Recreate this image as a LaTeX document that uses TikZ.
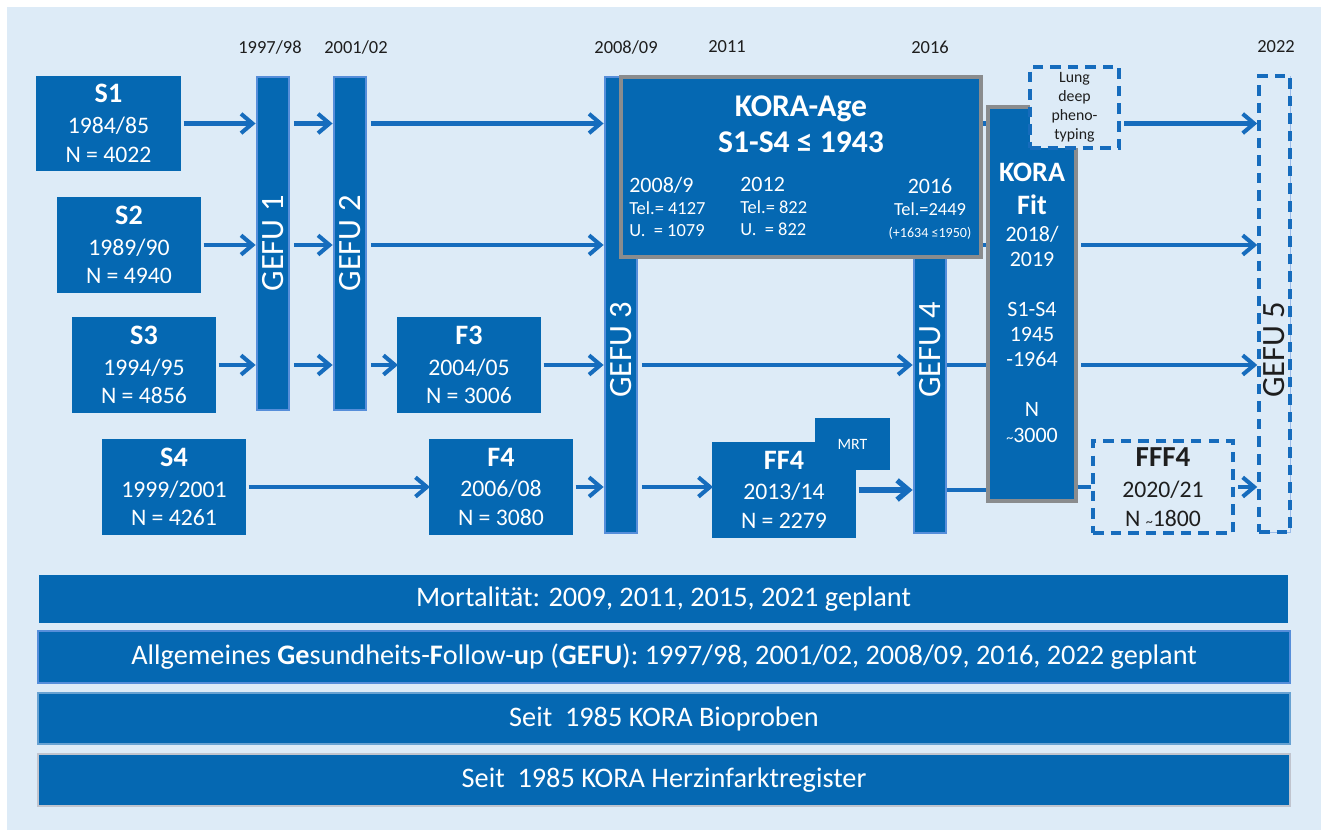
\documentclass[tikz,border=0pt]{standalone}
\usepackage{fontspec}
\setmainfont{Carlito}
\usetikzlibrary{arrows.meta, positioning}
\definecolor{koraBlue}{RGB}{5,104,178}
\definecolor{arrowBlue}{RGB}{22,108,189}
\definecolor{paleBlue}{RGB}{221,235,247}
\definecolor{gefuEdge}{RGB}{86,142,218}
\definecolor{frameGrey}{RGB}{138,140,142}
\definecolor{bioEdge}{RGB}{104,162,210}
\definecolor{herzEdge}{RGB}{192,196,206}
\definecolor{inkBlack}{RGB}{30,30,30}

\begin{document}
\begin{tikzpicture}[x=0.02cm, y=-0.02cm,
    sz/.style 2 args={minimum width=#1*0.02cm, minimum height=#2*0.02cm},
    cohort/.style={rectangle, fill=koraBlue, draw=koraBlue, line width=0.6pt, text=white, inner sep=0pt, outer sep=0pt, align=center, font=\fontsize{13.5}{16.5}\selectfont},
    gefu/.style={rectangle, fill=koraBlue, draw=gefuEdge, line width=1.6pt, inner sep=0pt},
    gefulabel/.style={rotate=90, text=white, inner sep=0pt, font=\fontsize{18.5}{20}\selectfont},
    greyframe/.style={rectangle, fill=koraBlue, draw=frameGrey, line width=2pt, inner sep=0pt},
    planned/.style={rectangle, fill=paleBlue, draw=arrowBlue, line width=2pt, dash pattern=on 6pt off 4pt, inner sep=0pt, text=inkBlack, align=center},
    agecol/.style={text=white, inner sep=0pt, font=\fontsize{10.5}{12.5}\selectfont},
    band/.style={rectangle, fill=koraBlue, line width=1.6pt, inner sep=0pt, text=white, font=\fontsize{16.1}{19}\selectfont},
    year/.style={text=inkBlack, font=\fontsize{10.5}{12}\selectfont},
    line/.style={draw=arrowBlue, line width=2.3pt},
    arrow/.style={line, -{Straight Barb[length=6.5pt, width=11pt]}, shorten <=2pt}
  ]
  \useasboundingbox (0,0) rectangle (1321,830);
  \fill[paleBlue] (7,7) rectangle (1321,830);

  % years on top
  \node[year] (y9798) at (270,47) {1997/98};
  \node[year] (y0102) at (356,47) {2001/02};
  \node[year] (y0809) at (626,47) {2008/09};
  \node[year] (y2011) at (727,47) {2011};
  \node[year] (y2016) at (930,47) {2016};
  \node[year] (y2022) at (1276,47) {2022};

  % surveys
  \node[cohort, sz={143}{93}] (s1) at (108.5,123.5) {{\bfseries\fontsize{16}{19}\selectfont S1}\\[1pt]1984/85\\N = 4022};
  \node[cohort, sz={142}{94}] (s2) at (129,245) {{\bfseries\fontsize{16}{19}\selectfont S2}\\[1pt]1989/90\\N = 4940};
  \node[cohort, sz={142}{94}] (s3) at (144,365) {{\bfseries\fontsize{16}{19}\selectfont S3}\\[1pt]1994/95\\N = 4856};
  \node[cohort, sz={142}{94}] (s4) at (174,487) {{\bfseries\fontsize{16}{19}\selectfont S4}\\[1pt]1999/2001\\N = 4261};

  % follow-ups
  \node[cohort, sz={142}{94}] (f3) at (469,365) {{\bfseries\fontsize{16}{19}\selectfont F3}\\[1pt]2004/05\\N = 3006};
  \node[cohort, sz={142}{94}] (f4) at (501,487) {{\bfseries\fontsize{16}{19}\selectfont F4}\\[1pt]2006/08\\N = 3080};
  \node[cohort, sz={142}{94}] (ff4) at (784,490) {{\bfseries\fontsize{16}{19}\selectfont FF4}\\[1pt]2013/14\\N = 2279};
  \node[cohort, sz={73}{50}, font=\fontsize{9}{11}\selectfont] (mrt) at (852.5,444) {MRT};

  % GEFU bars
  \node[gefu, sz={32}{333}] (gefu1) at (273,243.5) {};
  \node[gefulabel] (g1txt) at (gefu1) {GEFU 1};
  \node[gefu, sz={32}{333}] (gefu2) at (350,243.5) {};
  \node[gefulabel] (g2txt) at (gefu2) {GEFU 2};
  \node[gefu, sz={32}{456}] (gefu3) at (621,305) {};
  \node[gefulabel] (g3txt) at (621,350) {GEFU 3};
  \node[gefu, sz={32}{456}] (gefu4) at (930,305) {};
  \node[gefulabel] (g4txt) at (930,350) {GEFU 4};

  % KORA-Age
  \node[greyframe, sz={360}{180}] (kage) at (801,167) {};
  \node[text=white, align=center, inner sep=0pt, font=\bfseries\fontsize{18}{20.5}\selectfont] (kagettl) at (801,124) {KORA-Age\\S1-S4 ≤ 1943};
  \node[agecol, anchor=north west, align=left] (age08) at (629,177) {{\fontsize{12.5}{12.5}\selectfont 2008/9}\\Tel.= 4127\\U.~~= 1079};
  \node[agecol, anchor=north west, align=left] (age12) at (740,177) {{\fontsize{12.5}{12.5}\selectfont 2012}\\Tel.= 822\\U.~~= 822};
  \node[agecol, anchor=north, align=center] (age16) at (930,178) {{\fontsize{12.5}{12.5}\selectfont 2016}\\Tel.=2449\\{\fontsize{8}{9}\selectfont (+1634 ≤1950)}};

  % KORA Fit
  \node[greyframe, sz={88}{394}] (fit) at (1032,304) {};
  \node[text=white, align=center, inner sep=0pt, font=\bfseries\fontsize{16}{19}\selectfont] (fitttl) at (1032,189) {KORA\\Fit};
  \node[text=white, align=center, inner sep=0pt, font=\fontsize{12.5}{14.3}\selectfont] (fitinfo) at (1032,334) {2018/\\2019\\[14.3pt]S1-S4\\1945\\-1964\\[14.3pt]N\\{\footnotesize\textasciitilde}3000};

  % planned studies
  \node[planned, sz={89}{81}, font=\fontsize{9}{10.8}\selectfont] (lung) at (1074.5,107.5) {Lung\\deep\\pheno-\\typing};
  \node[planned, sz={140}{92}, font=\fontsize{13.5}{16.5}\selectfont] (fff4) at (1163,487) {{\bfseries\fontsize{16.5}{19}\selectfont FFF4}\\[1pt]2020/21\\N {\footnotesize\textasciitilde}1800};
  \node[planned, sz={31}{456}, preaction={draw=gefuEdge!60, line width=0.5pt, solid}] (gefu5) at (1274.5,304) {};
  \node[gefulabel, text=inkBlack] (g5txt) at (1274.5,350) {GEFU 5};

  % row S1
  \draw[arrow] (s1) -- (s1 -| gefu1.west);
  \draw[arrow] (gefu1.east |- s1) -- (gefu2.west |- s1);
  \draw[arrow] (gefu2.east |- s1) -- (gefu3.west |- s1);
  \draw[line] (kage.east |- s1) -- (fit.west |- s1);
  \draw[arrow] (lung.east |- s1) -- (gefu5.west |- s1);
  % row S2
  \draw[arrow] (s2) -- (s2 -| gefu1.west);
  \draw[arrow] (gefu1.east |- s2) -- (gefu2.west |- s2);
  \draw[arrow] (gefu2.east |- s2) -- (gefu3.west |- s2);
  \draw[line] (kage.east |- s2) -- (fit.west |- s2);
  \draw[arrow] (fit.east |- s2) -- (gefu5.west |- s2);
  % row S3
  \draw[arrow] (s3) -- (s3 -| gefu1.west);
  \draw[arrow] (gefu1.east |- s3) -- (gefu2.west |- s3);
  \draw[arrow] (gefu2.east |- s3) -- (f3);
  \draw[arrow] (f3) -- (f3 -| gefu3.west);
  \draw[arrow] (gefu3.east |- f3) -- (gefu4.west |- f3);
  \draw[line] (gefu4.east |- f3) -- (fit.west |- f3);
  \draw[arrow] (fit.east |- f3) -- (gefu5.west |- f3);
  % row S4
  \draw[arrow] (s4) -- (f4);
  \draw[arrow] (f4) -- (f4 -| gefu3.west);
  \draw[arrow] (gefu3.east |- f4) -- (ff4.west |- f4);
  \draw[arrow, line width=3pt] (ff4) -- (ff4 -| gefu4.west);
  \draw[line] (gefu4.east |- ff4) -- (fit.west |- ff4);
  \draw[line] (fit.east |- fff4) -- (fff4);
  \draw[arrow] (fff4) -- (fff4 -| gefu5.west);

  % bands
  \node[band, draw=koraBlue, line width=0.6pt, sz={1247}{46}] (mort) at (663.5,599) {Mortalität: 2009, 2011, 2015, 2021 geplant};
  \node[band, draw=gefuEdge, sz={1252}{52}] (gefubar) at (664,657) {Allgemeines \textbf{Ge}sundheits-\textbf{F}ollow-\textbf{u}p (\textbf{GEFU}): 1997/98, 2001/02, 2008/09, 2016, 2022 geplant};
  \node[band, draw=bioEdge, sz={1252}{51}] (bio) at (664,718.5) {Seit~~1985 KORA Bioproben};
  \node[band, draw=herzEdge, sz={1252}{52}] (herz) at (664,780) {Seit~~1985 KORA Herzinfarktregister};
\end{tikzpicture}
\end{document}
